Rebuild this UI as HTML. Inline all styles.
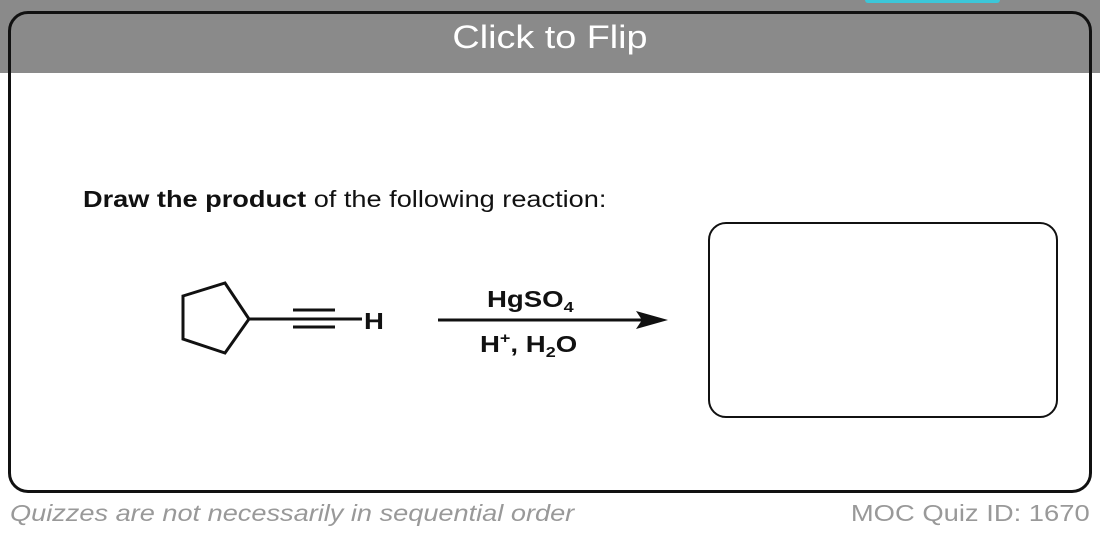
<!DOCTYPE html>
<html><head><meta charset="utf-8"><style>
html,body{margin:0;padding:0;background:#fff;width:1100px;height:537px;overflow:hidden;font-family:"Liberation Sans",sans-serif;position:relative}
.band{position:absolute;left:0;top:0;width:1100px;height:73px;background:#8a8a8a}
.teal{position:absolute;left:865px;top:0;width:135px;height:3px;background:#3cc6d8;border-radius:0 0 4px 4px}
.card{position:absolute;left:8px;top:11px;width:1078px;height:476px;border:3px solid #111;border-radius:20px;box-sizing:content-box}
.flip{position:absolute;left:0;width:1100px;top:19px;text-align:center;color:#fff;font-size:32px;transform:scaleX(1.18);transform-origin:550px 0}
.q{position:absolute;left:83px;top:186px;font-size:23px;color:#111;transform:scaleX(1.18);transform-origin:0 0;white-space:nowrap}
.box{position:absolute;left:708px;top:222px;width:346px;height:192px;border:2.5px solid #111;border-radius:18px}
.f{position:absolute;top:500px;font-size:23px;color:#999;white-space:nowrap}
</style></head><body>
<div class="band"></div><div class="teal"></div>
<div class="card"></div>
<div class="flip">Click to Flip</div>
<div class="q"><b>Draw the product</b> of the following reaction:</div>
<svg style="position:absolute;left:0;top:0" width="1100" height="537">
<g stroke="#111" stroke-width="3" fill="none" stroke-linejoin="miter">
<polygon points="183,296 225,283 249,319 225,353 183,339"/>
<line x1="249" y1="319" x2="362" y2="319"/>
<line x1="293" y1="310" x2="335" y2="310"/>
<line x1="293" y1="327" x2="335" y2="327"/>
<line x1="438" y1="320" x2="645" y2="320"/>
</g>
<polygon points="668,320 636,311 642,320 636,329" fill="#111"/>
<g font-family="Liberation Sans" font-weight="bold" fill="#111" font-size="23">
<text x="0" y="329" transform="translate(364,0) scale(1.2,1)">H</text>
<text x="0" y="307" transform="translate(487,0) scale(1.2,1)">HgSO<tspan font-size="15" dy="5">4</tspan></text>
<text x="0" y="352" transform="translate(480,0) scale(1.2,1)">H<tspan font-size="15" dy="-9">+</tspan><tspan dy="9">, H</tspan><tspan font-size="15" dy="5">2</tspan><tspan dy="-5">O</tspan></text>
</g>
</svg>
<div class="box"></div>
<div class="f" style="left:10px;font-style:italic;transform:scaleX(1.18);transform-origin:0 0">Quizzes are not necessarily in sequential order</div>
<div class="f" style="right:10px;transform:scaleX(1.19);transform-origin:100% 0">MOC Quiz ID: 1670</div>
</body></html>
